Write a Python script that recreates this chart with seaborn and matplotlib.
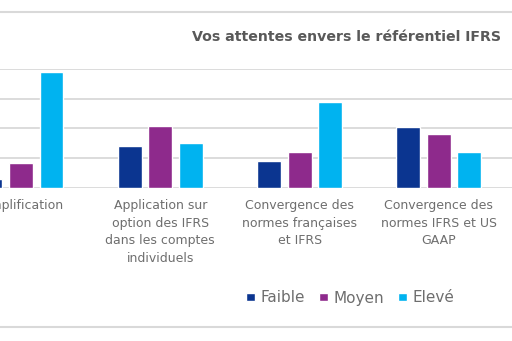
import matplotlib
matplotlib.use("Agg")
import matplotlib.pyplot as plt
import seaborn as sns
import pandas as pd
from matplotlib.patches import Rectangle

categories = [
    "Simplification",
    "Application sur\noption des IFRS\ndans les comptes\nindividuels",
    "Convergence des\nnormes françaises\net IFRS",
    "Convergence des\nnormes IFRS et US\nGAAP",
]
series = ["Faible", "Moyen", "Elevé"]
faible = [3, 14, 9, 20.5]
moyen = [8.5, 21, 12, 18]
eleve = [39, 15, 29, 12]
colors = ["#0B3590", "#8E2A8C", "#00B3F0"]
title = "Vos attentes envers le référentiel IFRS"

rows = []
for c, f, m, e in zip(categories, faible, moyen, eleve):
    rows.append((c, "Faible", f))
    rows.append((c, "Moyen", m))
    rows.append((c, "Elevé", e))
df = pd.DataFrame(rows, columns=["cat", "niveau", "val"])

sns.set_style("white")
plt.rcParams["font.family"] = ["DejaVu Sans"]

W, H = 512, 341
fig = plt.figure(figsize=(W / 100, H / 100), dpi=100)
fig.patch.set_facecolor("white")

# outer chart frame (only top and bottom visible in the crop)
fig.patches.append(Rectangle((-0.5, 1 - 327 / H), 2.0, (327 - 12) / H,
                             transform=fig.transFigure, fill=False,
                             edgecolor="#d9d9d9", linewidth=1.5, zorder=0))

spacing = 139.3
x0 = 21
left_px = x0 - 1.5 * spacing
right_px = x0 + 4.5 * spacing
bottom = 1 - 188 / H
top = 1 - 69 / H
ax = fig.add_axes([left_px / W, bottom, (right_px - left_px) / W, top - bottom])

sns.barplot(data=df, x="cat", y="val", hue="niveau", hue_order=series,
            palette=colors, width=0.657, gap=0.215, saturation=1,
            ax=ax, legend=True)

ax.set_xlim(-1.5, 4.5)
ax.set_ylim(0, 40)
ax.set_yticks([0, 10, 20, 30, 40])
ax.grid(axis="y", color="#d9d9d9", linewidth=1.3)
ax.set_axisbelow(True)
for s in ax.spines.values():
    s.set_visible(False)
ax.tick_params(length=0)
ax.set_yticklabels([])
ax.set_xlabel("")
ax.set_ylabel("")
for lab in ax.get_xticklabels():
    lab.set_fontsize(9)
    lab.set_color("#6e6e6e")
    lab.set_linespacing(1.45)
    lab.set_va("top")
ax.tick_params(axis="x", pad=8)

handles, labels = ax.get_legend_handles_labels()
ax.get_legend().remove()
fig.legend(handles, labels, loc="center", bbox_to_anchor=(350 / W, 1 - 298 / H),
           ncol=3, frameon=False, fontsize=11, labelcolor="#6e6e6e",
           handlelength=0.6, handleheight=0.5, handletextpad=0.35,
           columnspacing=0.9)

fig.text(347 / W, 1 - 37 / H, title, ha="center", va="center",
         fontsize=10.2, fontweight="bold", color="#595959")

fig.savefig("out.png", dpi=100)
